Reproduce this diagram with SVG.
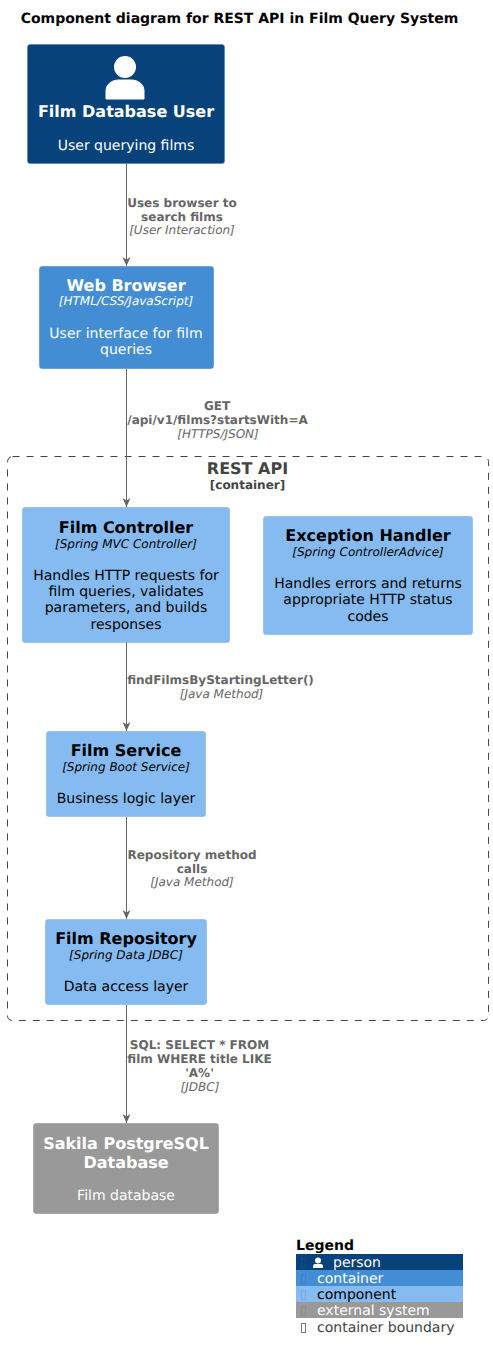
<svg xmlns="http://www.w3.org/2000/svg" width="493" height="1361" viewBox="0 0 493 1361">
<style>
text{font-family:"DejaVu Sans",sans-serif;text-anchor:middle;text-rendering:geometricPrecision}
.n{font-size:16px;font-weight:bold}
.t{font-size:12px;font-style:italic}
.d{font-size:14px}
.w{fill:#fff}.k{fill:#000}
.lb{font-size:12px;font-weight:bold;fill:#666}
.li{font-size:12px;font-style:italic;fill:#666}
.c{stroke:#666;stroke-width:1;fill:none;marker-end:url(#a)}
.lg{font-size:14px;text-anchor:start}
</style>
<defs><marker id="a" markerUnits="userSpaceOnUse" markerWidth="10" markerHeight="9" refX="9" refY="4" orient="auto"><path d="M0,0L9,4L0,8L2.500,4Z" fill="#666"/></marker></defs>
<rect width="493" height="1361" fill="#fff"/>
<text x="239.500" y="23" font-size="14" font-weight="bold" fill="#000">Component diagram for REST API in Film Query System</text>
<g id="boundary"><rect x="7.500" y="456.500" width="481" height="564" rx="5" fill="none" stroke="#444" stroke-dasharray="7,7"/><text x="247.500" y="474" font-size="16" font-weight="bold" fill="#444">REST API</text><text x="247.500" y="489" font-size="12" font-weight="bold" fill="#444">[container]</text></g>
<g id="connectors">
<path class="c" d="M126.500 164V266"/><path class="c" d="M126.500 369V507"/><path class="c" d="M126.500 642V731"/><path class="c" d="M126.500 817V919"/><path class="c" d="M126.500 1005V1123"/>
<text class="lb" x="182" y="206.500">Uses browser to</text><text class="lb" x="182" y="220.500">search films</text><text class="li" x="182" y="234">[User Interaction]</text>
<text class="lb" x="217" y="410">GET</text><text class="lb" x="217.500" y="424">/api/v1/films?startsWith=A</text><text class="li" x="218" y="438">[HTTPS/JSON]</text>
<text class="lb" x="220.500" y="684">findFilmsByStartingLetter()</text><text class="li" x="221.500" y="698">[Java Method]</text>
<text class="lb" x="192" y="858.500">Repository method</text><text class="lb" x="192" y="872.500">calls</text><text class="li" x="192" y="886">[Java Method]</text>
<text class="lb" x="199.500" y="1049">SQL: SELECT * FROM</text><text class="lb" x="199.500" y="1063">film WHERE title LIKE</text><text class="lb" x="199.500" y="1077">'A%'</text><text class="li" x="200" y="1091">[JDBC]</text>
</g>
<g id="user"><rect x="27.500" y="44.500" width="197" height="119" rx="2.500" fill="#08427b" stroke="#3c7fc0" stroke-width=".5"/><circle cx="125" cy="67" r="11" fill="#fff"/><path d="M106 99V91C106 84 112 80 119 80H131C138 80 144 84 144 91V99Z" fill="#fff" stroke="#fff" stroke-linejoin="round"/><text class="n w" x="126" y="117">Film Database User</text><text class="d w" x="126" y="150">User querying films</text></g>
<g id="browser"><rect x="39.500" y="266.500" width="174" height="102" rx="2.500" fill="#438dd5" stroke="#3c7fc0" stroke-width=".5"/><text class="n w" x="126" y="291">Web Browser</text><text class="t w" x="126" y="305">[HTML/CSS/JavaScript]</text><text class="d w" x="126" y="338">User interface for film</text><text class="d w" x="126" y="354">queries</text></g>
<g id="controller"><rect x="22.500" y="507.500" width="207" height="135" rx="2.500" fill="#85bbf0" stroke="#78a8d8" stroke-width=".5"/><text class="n k" x="126" y="533">Film Controller</text><text class="t k" x="126" y="548">[Spring MVC Controller]</text><text class="d k" x="126" y="580">Handles HTTP requests for</text><text class="d k" x="126" y="596">film queries, validates</text><text class="d k" x="126" y="612">parameters, and builds</text><text class="d k" x="126" y="629">responses</text></g>
<g id="handler"><rect x="263.500" y="516.500" width="209" height="118" rx="2.500" fill="#85bbf0" stroke="#78a8d8" stroke-width=".5"/><text class="n k" x="368" y="541">Exception Handler</text><text class="t k" x="368" y="556">[Spring ControllerAdvice]</text><text class="d k" x="368" y="588">Handles errors and returns</text><text class="d k" x="368" y="604">appropriate HTTP status</text><text class="d k" x="368" y="621">codes</text></g>
<g id="service"><rect x="46.500" y="731.500" width="159" height="85" rx="2.500" fill="#85bbf0" stroke="#78a8d8" stroke-width=".5"/><text class="n k" x="126" y="756">Film Service</text><text class="t k" x="126" y="771">[Spring Boot Service]</text><text class="d k" x="126" y="803">Business logic layer</text></g>
<g id="repository"><rect x="45.500" y="919.500" width="161" height="85" rx="2.500" fill="#85bbf0" stroke="#78a8d8" stroke-width=".5"/><text class="n k" x="126" y="944">Film Repository</text><text class="t k" x="126" y="959">[Spring Data JDBC]</text><text class="d k" x="126" y="991">Data access layer</text></g>
<g id="database"><rect x="33.500" y="1123.500" width="185" height="90" rx="2.500" fill="#999" stroke="#8a8a8a" stroke-width=".5"/><text class="n w" x="126" y="1149">Sakila PostgreSQL</text><text class="n w" x="126" y="1168">Database</text><text class="d w" x="126" y="1200">Film database</text></g>
<g id="legend">
<text x="296" y="1250" font-size="14" font-weight="bold" fill="#000" style="text-anchor:start">Legend</text>
<rect x="296" y="1254" width="167" height="16" fill="#08427b"/><rect x="296" y="1270" width="167" height="16" fill="#438dd5"/><rect x="296" y="1286" width="167" height="16" fill="#85bbf0"/><rect x="296" y="1302" width="167" height="16" fill="#999"/>
<circle cx="318" cy="1260.500" r="3" fill="#fff"/><path d="M313 1268V1266C313 1264.500 314.500 1264 316 1264H320C321.500 1264 323 1264.500 323 1266V1268Z" fill="#fff"/>
<text class="lg" x="333" y="1267" fill="#fff">person</text><text class="lg" x="317" y="1283" fill="#fff">container</text><text class="lg" x="317" y="1299" fill="#000">component</text><text class="lg" x="317" y="1315" fill="#fff">external system</text><text class="lg" x="317" y="1332" fill="#444">container boundary</text>
<g fill="none" stroke-opacity=".7"><rect x="301.500" y="1258.500" width="4" height="9" stroke="#0f4f8a"/><rect x="301.500" y="1274.500" width="4" height="9" stroke="#3c7fc0"/><rect x="301.500" y="1290.500" width="4" height="9" stroke="#78a8d8"/><rect x="301.500" y="1306.500" width="4" height="9" stroke="#8a8a8a"/><rect x="301.500" y="1323.500" width="4" height="9" stroke="#444"/></g>
</g>
</svg>
